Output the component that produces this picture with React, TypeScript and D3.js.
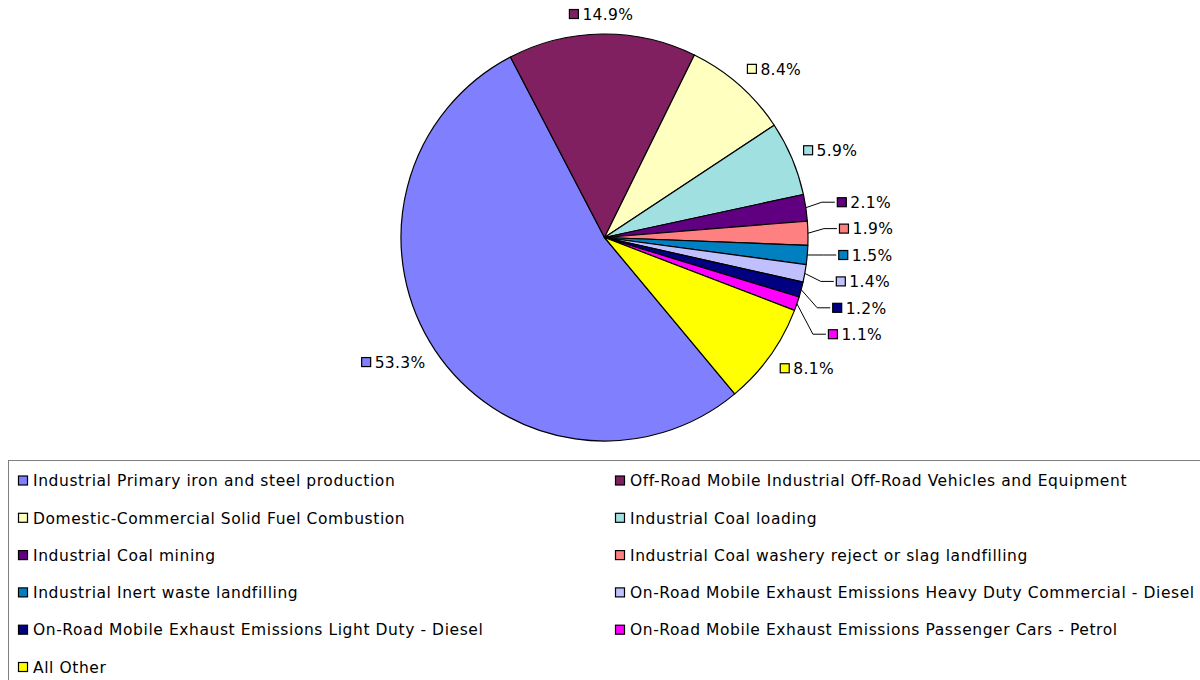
import React from "react";
import * as d3 from "d3";

const categories = [
  "Industrial Primary iron and steel production",
  "Off-Road Mobile Industrial Off-Road Vehicles and Equipment",
  "Domestic-Commercial Solid Fuel Combustion",
  "Industrial Coal loading",
  "Industrial Coal mining",
  "Industrial Coal washery reject or slag landfilling",
  "Industrial Inert waste landfilling",
  "On-Road Mobile Exhaust Emissions Heavy Duty Commercial - Diesel",
  "On-Road Mobile Exhaust Emissions Light Duty - Diesel",
  "On-Road Mobile Exhaust Emissions Passenger Cars - Petrol",
  "All Other",
];
const values = [53.3, 14.9, 8.4, 5.9, 2.1, 1.9, 1.5, 1.4, 1.2, 1.1, 8.1];
const colors = [
  "#8080FF", "#802060", "#FFFFC0", "#A0E0E0", "#600080", "#FF8080",
  "#0080C0", "#C0C0FF", "#000080", "#FF00FF", "#FFFF00",
];
const labelTexts = values.map((v) => v.toFixed(1) + "%");

const W = 1200, H = 680;
const CX = 604.5, CY = 237.5, R = 203.5;
const START = (140.2 * Math.PI) / 180;
const FONT = "DejaVu Sans, Verdana, sans-serif";
const FS = 15.5;
const LS_LABEL = 0.35;
const LS_LEGEND = 0.58;

let measureCtx: CanvasRenderingContext2D | null = null;
function textW(s: string, ls: number) {
  if (!measureCtx) {
    const c = document.createElement("canvas");
    measureCtx = c.getContext("2d");
  }
  if (!measureCtx) return s.length * 9;
  measureCtx.font = `${FS}px "DejaVu Sans"`;
  return measureCtx.measureText(s).width + ls * s.length;
}

const clamp = (v: number) => Math.max(-1, Math.min(1, v));

export default function App() {
  const pie = d3
    .pie<number>()
    .sort(null)
    .value((d) => d)
    .startAngle(START)
    .endAngle(START + 2 * Math.PI);
  const arcs = pie(values);
  const arcGen = d3.arc<d3.PieArcDatum<number>>().innerRadius(0).outerRadius(R);

  const labels: React.ReactNode[] = [];
  let prevY = -Infinity;
  arcs.forEach((a, i) => {
    const m = (a.startAngle + a.endAngle) / 2;
    const s = Math.sin(m), c = Math.cos(m);
    const txt = labelTexts[i];
    const tw = textW(txt, LS_LABEL);
    const w = 13 + tw, h = 16;
    if (values[i] < 3) {
      const ex = CX + R * s, ey = CY - R * c;
      const ly = Math.max(ey - 5.5, prevY + 26.4);
      prevY = ly;
      const mx = ex + 31;
      labels.push(
        <g key={"l" + i}>
          <polyline
            points={`${ex},${ey} ${ex + 16},${ly} ${mx - 2},${ly}`}
            fill="none"
            stroke="#000"
            strokeWidth={1}
          />
          <rect x={mx + 0.5} y={ly - 4.5} width={9} height={9} fill={colors[i]} stroke="#000" strokeWidth={1.2} />
          <text x={mx + 13.5} y={ly + 5.7} fontFamily={FONT} fontSize={FS} letterSpacing={LS_LABEL} fill="#000">{txt}</text>
        </g>
      );
    } else {
      const ar = R + 12;
      const ax = CX + ar * s, ay = CY - ar * c;
      const bcx = ax + (w / 2) * clamp(3 * s);
      const bcy = ay - (h / 2) * clamp(1.15 * c);
      const left = bcx - w / 2;
      labels.push(
        <g key={"l" + i}>
          <rect x={left + 0.5} y={bcy - 4.5} width={9} height={9} fill={colors[i]} stroke="#000" strokeWidth={1.2} />
          <text x={left + 13.5} y={bcy + 5.7} fontFamily={FONT} fontSize={FS} letterSpacing={LS_LABEL} fill="#000">{txt}</text>
        </g>
      );
    }
  });

  const rowStart = 480.5, rowStep = 37.3;
  const colX = [18, 615];

  return (
    <div style={{ position: "fixed", left: 0, top: 0, width: W, height: H, background: "#fff" }}>
      <svg width={W} height={H} style={{ display: "block" }}>
        <rect x={0} y={0} width={W} height={H} fill="#fff" />
        <g transform={`translate(${CX},${CY})`}>
          {arcs.map((a, i) => (
            <path key={i} d={arcGen(a) || ""} fill={colors[i]} stroke="#000" strokeWidth={1.2} strokeLinejoin="round" />
          ))}
        </g>
        {labels}
        <rect x={8.5} y={460.5} width={1300} height={400} fill="none" stroke="#808080" strokeWidth={1} />
        {categories.map((cat, i) => {
          const col = i % 2, row = Math.floor(i / 2);
          const x = colX[col];
          const y = rowStart + row * rowStep;
          return (
            <g key={"lg" + i}>
              <rect x={x + 0.5} y={y - 4.5} width={9} height={9} fill={colors[i]} stroke="#000" strokeWidth={1.2} />
              <text x={x + 15} y={y + 5.7} fontFamily={FONT} fontSize={FS} letterSpacing={LS_LEGEND} fill="#000">{cat}</text>
            </g>
          );
        })}
      </svg>
    </div>
  );
}
